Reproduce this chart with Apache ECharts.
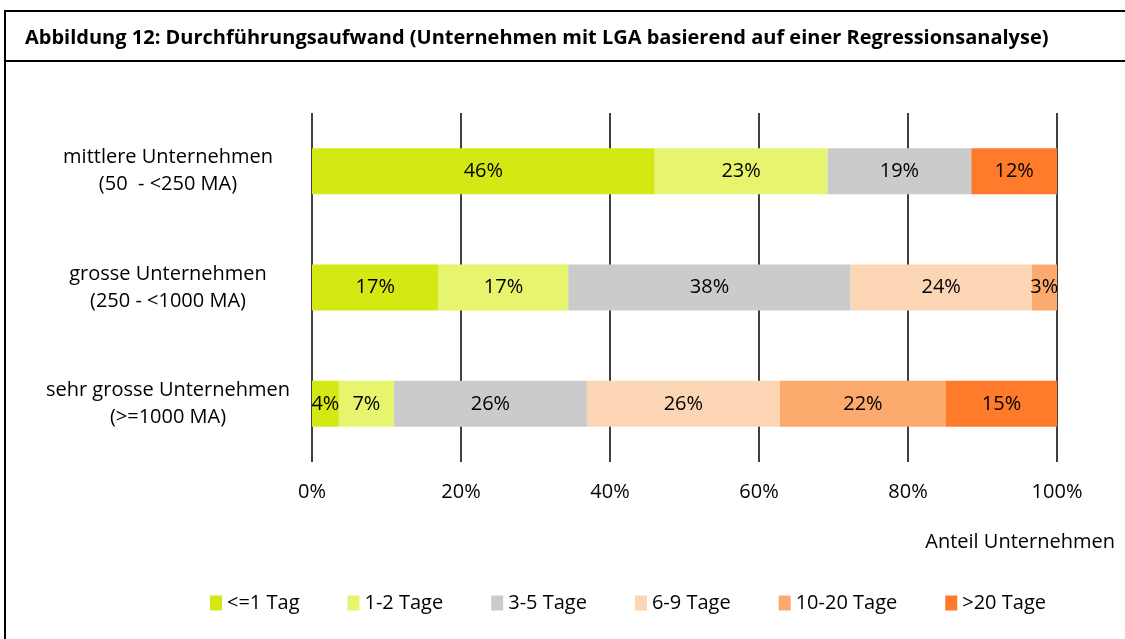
<!DOCTYPE html>
<html>
<head>
<meta charset="utf-8">
<script src="https://cdn.jsdelivr.net/npm/echarts@6/dist/echarts.min.js"></script>
<style>
  html, body { margin: 0; padding: 0; background: #fff; }
  #chart { width: 1125px; height: 639px; }
</style>
</head>
<body>
<div id="chart"></div>
<script>
// Kategorien (von oben nach unten)
var categories = ['mittlere Unternehmen\n(50  - <250 MA)', 'grosse Unternehmen\n(250 - <1000 MA)', 'sehr grosse Unternehmen\n(>=1000 MA)'];
var seriesNames = ['<=1 Tag', '1-2 Tage', '3-5 Tage', '6-9 Tage', '10-20 Tage', '>20 Tage'];
// Anteile in % je Kategorie
var tag1 = [46.0, 17.0, 3.6];
var tage1bis2 = [23.2, 17.4, 7.4];
var tage3bis5 = [19.3, 37.9, 25.9];
var tage6bis9 = [0, 24.3, 25.9];
var tage10bis20 = [0, 3.4, 22.3];
var tage20plus = [11.5, 0, 14.9];
var xTicks = [0, 20, 40, 60, 80, 100];

var colors = ['#d4e813', '#e6f46e', '#cbcbcb', '#fcd5b4', '#fba96c', '#fd7b2b'];
var values = [tag1, tage1bis2, tage3bis5, tage6bis9, tage10bis20, tage20plus];

var font = '"Open Sans", sans-serif';

var series = seriesNames.map(function (n, i) {
  return {
    name: n,
    type: 'bar',
    stack: 'all',
    barWidth: 46,
    data: values[i],
    itemStyle: { color: colors[i] },
    label: {
      show: true,
      position: 'inside',
      color: '#000',
      fontSize: 20,
      fontFamily: font,
      formatter: function (p) { return p.value > 0 ? Math.round(p.value) + '%' : ''; }
    }
  };
});

var chart = echarts.init(document.getElementById('chart'));
chart.setOption({
  animation: false,
  title: {
    text: 'Abbildung 12: Durchführungsaufwand (Unternehmen mit LGA basierend auf einer Regressionsanalyse)',
    left: 20,
    top: 23,
    textStyle: { fontSize: 20, fontWeight: 'bold', color: '#000', fontFamily: font }
  },
  grid: { left: 312, right: 68, top: 113, bottom: 177 },
  xAxis: {
    type: 'value',
    min: xTicks[0],
    max: xTicks[xTicks.length - 1],
    interval: 20,
    axisLine: { show: false },
    axisTick: { show: false },
    splitLine: { lineStyle: { color: '#000', width: 1.5 } },
    axisLabel: {
      formatter: '{value}%',
      fontSize: 20,
      color: '#000',
      fontFamily: font,
      margin: 20
    },
    name: 'Anteil Unternehmen',
    nameLocation: 'end',
    nameGap: 58,
    nameTextStyle: {
      align: 'right',
      verticalAlign: 'top',
      fontSize: 20,
      color: '#000',
      fontFamily: font,
      padding: [70, 0, 0, 0]
    }
  },
  yAxis: {
    type: 'category',
    inverse: true,
    data: categories,
    axisLine: { show: false },
    axisTick: { show: false },
    axisLabel: {
      align: 'center',
      margin: 144,
      fontSize: 20,
      lineHeight: 27,
      color: '#000',
      fontFamily: font
    }
  },
  legend: {
    data: seriesNames,
    left: 205,
    top: 588,
    itemWidth: 12,
    itemHeight: 15,
    itemGap: 48,
    icon: 'rect',
    textStyle: { fontSize: 20, color: '#000', fontFamily: font }
  },
  graphic: [
    { type: 'line', shape: { x1: 5, y1: 11, x2: 1125, y2: 11 }, style: { stroke: '#000', lineWidth: 2 } },
    { type: 'line', shape: { x1: 5, y1: 61, x2: 1125, y2: 61 }, style: { stroke: '#000', lineWidth: 2 } },
    { type: 'line', shape: { x1: 5, y1: 10, x2: 5, y2: 639 }, style: { stroke: '#000', lineWidth: 2 } }
  ],
  series: series
});
</script>
</body>
</html>
